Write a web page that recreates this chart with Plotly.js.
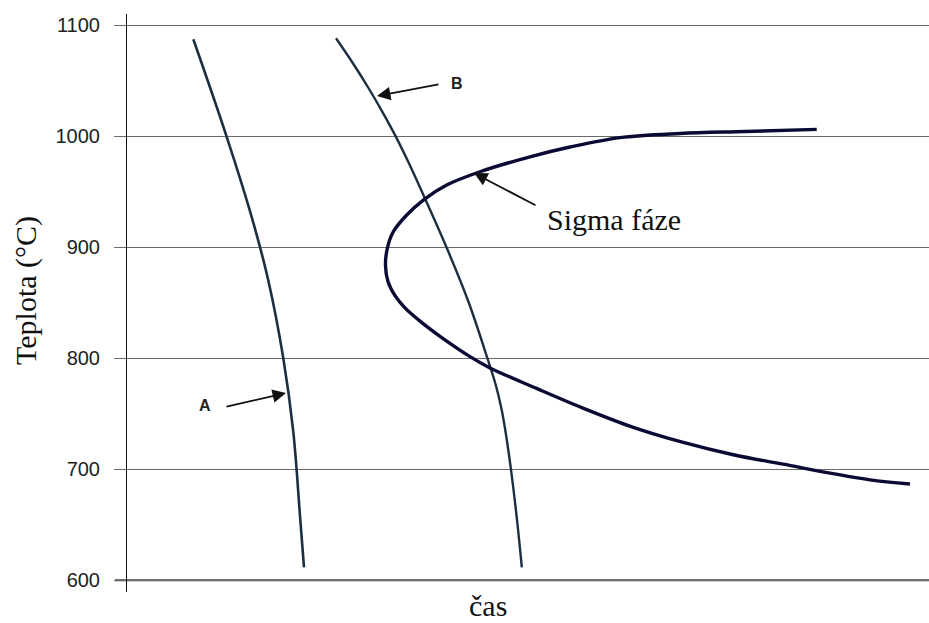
<!DOCTYPE html>
<html>
<head>
<meta charset="utf-8">
<script src="https://cdn.plot.ly/plotly-3.0.1.min.js"></script>
<style>html,body{margin:0;padding:0;background:#fff;}#chart{width:929px;height:623px;}</style>
</head>
<body>
<div id="chart"></div>
<script>
// Curve A (time in arbitrary units, temperature in °C)
const curveA_time = [8.27, 12.43, 15.55, 17.62, 19.49, 20.74, 21.57, 22.07];
const curveA_temp = [1087.5, 999.6, 927.3, 870.1, 800.0, 733.4, 658.1, 611.5];

// Curve B
const curveB_time = [26.06, 28.17, 30.11, 31.86, 33.57, 35.14, 36.68, 39.89, 42.53, 44.94, 46.00, 46.71, 47.24, 47.87, 48.62, 49.23];
const curveB_temp = [1088.4, 1065.9, 1043.6, 1021.9, 999.1, 975.9, 951.6, 899.1, 851.8, 800.0, 775.4, 753.7, 731.9, 700.0, 655.0, 611.5];

// Sigma phase curve
const sigma_time = [86.00, 77.06, 68.95, 61.47, 55.24, 50.25, 44.01, 39.86, 36.95, 34.88, 33.20, 32.46, 32.23, 32.54, 33.42, 34.66, 36.53, 39.03, 42.77, 45.26, 51.08, 57.32, 63.13, 69.36, 75.60, 81.83, 88.03, 92.64, 97.63];
const sigma_temp = [1006.3, 1004.4, 1002.6, 998.9, 990.4, 981.6, 968.1, 956.1, 942.6, 929.1, 914.0, 899.1, 883.8, 869.2, 856.4, 845.4, 833.5, 819.8, 801.5, 791.3, 772.8, 753.7, 737.7, 724.1, 713.0, 704.5, 696.0, 690.4, 686.7];

// Axis ticks
const yTickVals = [600, 700, 800, 900, 1000, 1100];
const yTickText = ['600', '700', '800', '900', '1000', '1100'];

const traces = [
  {x: curveA_time, y: curveA_temp, type: 'scatter', mode: 'lines', name: 'A',
   line: {color: '#1c2f40', width: 2.6, shape: 'spline', smoothing: 1}},
  {x: curveB_time, y: curveB_temp, type: 'scatter', mode: 'lines', name: 'B',
   line: {color: '#1c2f40', width: 2.4, shape: 'spline', smoothing: 1}},
  {x: sigma_time, y: sigma_temp, type: 'scatter', mode: 'lines', name: 'Sigma fáze',
   line: {color: '#0a0a35', width: 3.4, shape: 'spline', smoothing: 1}}
];

const serif = 'Liberation Serif, Times New Roman, serif';
const sans = 'Liberation Sans, Arial, sans-serif';

const arrowStyle = {text: '', xref: 'x', yref: 'y', showarrow: true,
  arrowhead: 2, arrowsize: 1.5, arrowwidth: 1.8, arrowcolor: '#111111'};

const layout = {
  width: 929, height: 623,
  margin: {l: 127, r: 0, t: 14, b: 31, pad: 0},
  paper_bgcolor: '#ffffff', plot_bgcolor: '#ffffff',
  showlegend: false,
  xaxis: {range: [0, 100], showgrid: false, zeroline: false, showline: false,
          showticklabels: false, ticks: '', fixedrange: true},
  yaxis: {range: [589.3, 1110.3], tickvals: yTickVals, ticktext: yTickText,
          showgrid: true, gridcolor: '#6a6a6a', gridwidth: 1, zeroline: false,
          showline: true, linecolor: '#111111', linewidth: 1,
          ticks: 'outside', ticklen: 12, tickcolor: '#6a6a6a', tickwidth: 1,
          ticklabelstandoff: 10,
          tickfont: {family: sans, size: 20, color: '#222222'}},
  shapes: [
    {type: 'line', xref: 'paper', yref: 'y', x0: -0.015, x1: 1, y0: 600, y1: 600,
     line: {color: '#444444', width: 2}, layer: 'below'}
  ],
  annotations: [
    {text: 'Teplota (°C)', xref: 'paper', yref: 'paper', x: -0.126, y: 0.5225,
     xanchor: 'center', yanchor: 'middle', textangle: -90, showarrow: false,
     font: {family: serif, size: 30, color: '#111111'}},
    {text: 'čas', xref: 'paper', yref: 'paper', x: 0.450, y: -0.024,
     xanchor: 'center', yanchor: 'middle', showarrow: false,
     font: {family: serif, size: 30, color: '#111111'}},
    {text: 'Sigma fáze', xref: 'paper', yref: 'paper', x: 0.607, y: 0.6436,
     xanchor: 'center', yanchor: 'middle', showarrow: false,
     font: {family: serif, size: 30, color: '#111111'}},
    {text: '<b>A</b>', xref: 'paper', yref: 'paper', x: 0.0973, y: 0.3235,
     xanchor: 'center', yanchor: 'middle', showarrow: false,
     font: {family: sans, size: 16, color: '#222222'}},
    {text: '<b>B</b>', xref: 'paper', yref: 'paper', x: 0.4115, y: 0.8806,
     xanchor: 'center', yanchor: 'middle', showarrow: false,
     font: {family: sans, size: 16, color: '#222222'}},
    Object.assign({}, arrowStyle, {x: 19.83, y: 768.7, ax: -61, ay: 14}),
    Object.assign({}, arrowStyle, {x: 31.17, y: 1036.3, ax: 63, ay: -12}),
    Object.assign({}, arrowStyle, {x: 43.27, y: 966.9, ax: 63, ay: 33})
  ]
};

Plotly.newPlot('chart', traces, layout, {displayModeBar: false, staticPlot: true});
</script>
</body>
</html>
